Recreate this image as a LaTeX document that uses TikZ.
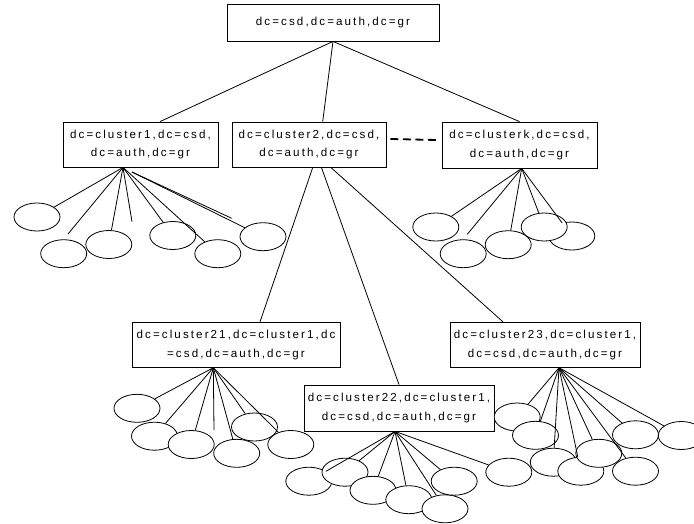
\documentclass[tikz,border=0pt]{standalone}
\usepackage{fontspec}
\newfontfamily\lbl{Liberation Sans}[LetterSpace=18]
\usetikzlibrary{shapes.geometric,backgrounds}
\begin{document}
\begin{tikzpicture}[x=1pt,y=-1pt,
  line width=0.8pt,
  dnbox/.style={draw, fill=white, inner sep=0pt, align=center,
    font=\lbl\fontsize{11.6}{18.5}\selectfont},
  leaf/.style={draw, fill=white, ellipse, inner sep=0pt,
    minimum width=46pt, minimum height=28pt},
  link/.style={draw, line width=0.8pt},
  gap/.style={draw, line width=1.8pt, dash pattern=on 8pt off 4.5pt}]
\useasboundingbox (0,0) rectangle (694,523);
\clip (0,0) rectangle (694,523);

% boxes
\node[dnbox, minimum width=212pt, minimum height=37pt] (top) at (333,22.5) {dc=csd,dc=auth,dc=gr};
\node[dnbox, minimum width=155pt, minimum height=45pt] (c1) at (140.5,144.5) {dc=cluster1,dc=csd,\\dc=auth,dc=gr};
\node[dnbox, minimum width=154pt, minimum height=45pt] (c2) at (309,144.5) {dc=cluster2,dc=csd,\\dc=auth,dc=gr};
\node[dnbox, minimum width=155pt, minimum height=46pt] (ck) at (519.5,145) {dc=clusterk,dc=csd,\\dc=auth,dc=gr};
\node[dnbox, minimum width=208pt, minimum height=45pt] (c21) at (236,344.8) {dc=cluster21,dc=cluster1,dc\\=csd,dc=auth,dc=gr};
\node[dnbox, minimum width=190pt, minimum height=46pt] (c22) at (399,408) {dc=cluster22,dc=cluster1,\\dc=csd,dc=auth,dc=gr};
\node[dnbox, minimum width=190pt, minimum height=45pt] (c23) at (545,344.8) {dc=cluster23,dc=cluster1,\\dc=csd,dc=auth,dc=gr};

% fan points
\coordinate (c2fan) at (317,155);
\coordinate (f1) at ([xshift=-17.5pt]c1.south);
\coordinate (f1b) at (132,172);
\coordinate (fk) at ([xshift=2.2pt]ck.south);
\coordinate (f21) at ([xshift=-22.7pt]c21.south);
\coordinate (f22) at ([xshift=-4pt]c22.south);
\coordinate (f23) at ([xshift=14pt]c23.south);

% dangling ends
\coordinate (d1a) at (68,234);
\coordinate (d1c) at (132,221.7);
\coordinate (d1d) at (231.7,218.3);
\coordinate (dka) at (467.3,234.3);
\coordinate (d21) at (214,430);

% top-level links
\draw[link] (top.south) -- ([xshift=19.5pt]c1.north);
\draw[link] (top.south) -- ([xshift=13.7pt]c2.north);
\draw[link] (top.south) -- (ck.north);
\path (c2.east) ++(4pt,5.5pt) coordinate (g1) (ck.west) ++(-5pt,5pt) coordinate (g2);
\draw[gap] (g1) -- (g2);

\begin{scope}[on background layer]
\draw[link] (c2fan) -- ([xshift=24pt]c21.north);
\draw[link] (c2fan) -- (c22.north);
\draw[link] (c2fan) -- ([xshift=-42pt]c23.north);
\end{scope}

% leaves of cluster1
\node[leaf] (E1) at (37,217) {};
\node[leaf] (E2) at (63.7,253.7) {};
\node[leaf] (E3) at (108.8,244.5) {};
\node[leaf] (E4) at (172.8,235.5) {};
\node[leaf] (E5) at (217.8,253.7) {};
\node[leaf] (E6) at (263,236.7) {};
% leaves of clusterk
\node[leaf] (K1) at (435.8,227) {};
\node[leaf] (K2) at (463.2,253.7) {};
\node[leaf] (K3) at (508.2,244.7) {};
\node[leaf] (K5) at (571.8,236) {};
\node[leaf] (K4) at (544.2,227) {};
% leaves of cluster21
\node[leaf] (A1) at (137,408.3) {};
\node[leaf] (A2) at (154.5,436.2) {};
\node[leaf] (A3) at (191.2,444.5) {};
\node[leaf] (A5) at (254.5,427) {};
\node[leaf] (A4) at (236.7,453.3) {};
\node[leaf] (A6) at (290.8,444.5) {};
% leaves of cluster22
\node[leaf] (B1) at (308.8,481.2) {};
\node[leaf] (B2) at (345,472.2) {};
\node[leaf] (B3) at (373,490.3) {};
\node[leaf] (B4) at (408.8,499.7) {};
\node[leaf] (B5) at (445,508.8) {};
\node[leaf] (B6) at (454.2,481.2) {};
\node[leaf] (B7) at (508.8,472.2) {};
% leaves of cluster23
\node[leaf] (C1) at (517.2,417) {};
\node[leaf] (C2) at (535.5,435.3) {};
\node[leaf] (C3) at (553.3,462.2) {};
\node[leaf] (C4) at (580.8,471.2) {};
\node[leaf] (C5) at (598.8,453.3) {};
\node[leaf] (C6) at (635.5,471.2) {};
\node[leaf] (C7) at (635.5,434.8) {};
\node[leaf] (C8) at (681.3,435.5) {};

% cluster1 links
\draw[link] (f1) -- (E1);
\draw[link] (f1) -- (d1a);
\draw[link] (f1) -- (E3);
\draw[link] (f1) -- (d1c);
\draw[link] (f1) -- (E4);
\draw[link] (f1) -- (E5);
\draw[link] (f1b) -- (d1d);
\draw[link] (f1b) -- (E6);
% clusterk links
\draw[link] (fk) -- (K1);
\draw[link] (fk) -- (dka);
\draw[link] (fk) -- (K3);
\draw[link] (fk) -- (K4);
\draw[link] (fk) -- (K5);
% cluster21 links
\draw[link] (f21) -- (A1);
\draw[link] (f21) -- (A2);
\draw[link] (f21) -- (A3);
\draw[link] (f21) -- (d21);
\draw[link] (f21) -- (A4);
\draw[link] (f21) -- (A5);
\draw[link] (f21) -- (A6);
% cluster22 links
\draw[link] (f22) -- (B1);
\draw[link] (f22) -- (B2);
\draw[link] (f22) -- (B3);
\draw[link] (f22) -- (B4);
\draw[link] (f22) -- (B5);
\draw[link] (f22) -- (B6);
\draw[link] (f22) -- (B7);
% cluster23 links
\draw[link] (f23) -- (C1);
\draw[link] (f23) -- (C2);
\draw[link] (f23) -- (C3);
\draw[link] (f23) -- (C4);
\draw[link] (f23) -- (C5);
\draw[link] (f23) -- (C6);
\draw[link] (f23) -- (C7);
\draw[link] (f23) -- (C8);
\end{tikzpicture}
\end{document}
